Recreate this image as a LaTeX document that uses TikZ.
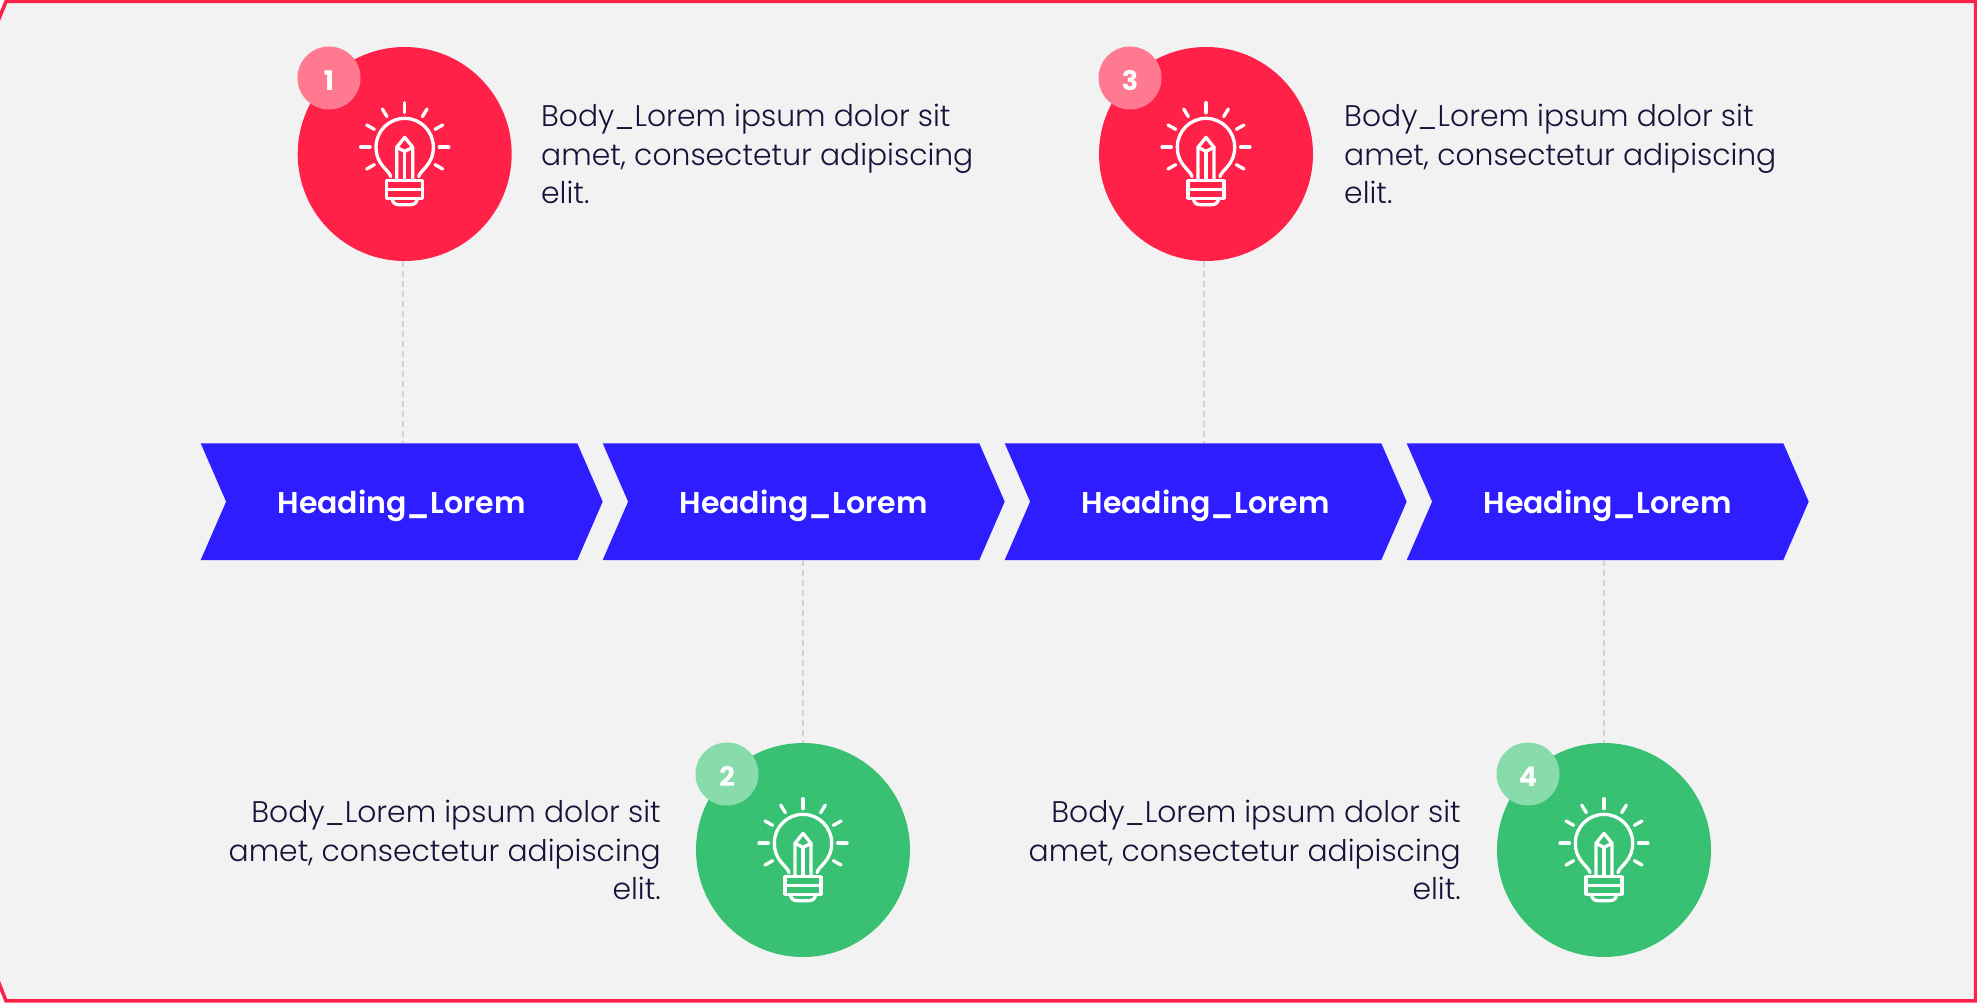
\documentclass[tikz,border=0pt]{standalone}
\usepackage{fontspec}
\setmainfont{Poppins}[UprightFont=* Light,BoldFont=* SemiBold]
\newfontfamily\digitfont{Poppins}[UprightFont=* Bold]
\definecolor{bgc}{HTML}{F2F2F2}
\definecolor{redc}{HTML}{FF2148}
\definecolor{redl}{HTML}{FF7A91}
\definecolor{grnc}{HTML}{38C172}
\definecolor{grnl}{HTML}{88DCAB}
\definecolor{bluec}{HTML}{2E1EFF}
\definecolor{inkc}{HTML}{14143A}
\definecolor{dashc}{HTML}{D2D2D2}
\tikzset{
  big/.style={circle,inner sep=0pt,minimum size=214pt,draw=none},
  badge/.style={circle,inner sep=0pt,minimum size=63pt,font=\fontsize{27}{27}\digitfont,text=white,text height=25pt,text depth=0pt},
  body/.style={font=\fontsize{29.8}{38.5}\selectfont,text=inkc,inner sep=0pt},
  head/.style={font=\fontsize{30}{38}\selectfont\bfseries,text=white,inner sep=0pt,minimum width=402pt,minimum height=116.7pt},
  link/.style={draw=dashc,line width=2pt,dash pattern=on 6pt off 4pt},
  glyph/.style={draw=white,line width=3.3pt,line cap=round,line join=round},
  bulb/.pic={
    \begin{scope}[x=0.3333pt,y=-0.3333pt]
      \foreach \ax/\ay/\bx/\by in {0/-154/0/-124,-67/-135/-53/-112,-114/-87/-91/-74,-132/-21/-104/-21,-114/45/-91/32,67/-135/53/-112,114/-87/91/-74,132/-21/104/-21,114/45/91/32}
        \draw[glyph] (\ax,\ay) -- (\bx,\by);
      \draw[glyph] (-42,68) .. controls (-46,48) and (-86,34) .. (-86,-21)
        arc[start angle=180,end angle=360,radius=86]
        .. controls (86,34) and (46,48) .. (42,68);
      \draw[glyph] (-54,80) rectangle (54,133);
      \draw[glyph] (-54,106) -- (54,106);
      \draw[glyph] (-38,133) .. controls (-36,148) and (-28,152) .. (-16,152) -- (16,152) .. controls (28,152) and (36,148) .. (38,133);
      \draw[glyph] (-24,76) -- (-24,-20) -- (0,-50) -- (24,-20) -- (24,76);
      \draw[glyph] (-24,-20) -- (0,-8) -- (24,-20);
      \draw[glyph] (0,-8) -- (0,76);
    \end{scope}
  }
}
\begin{document}
\begin{tikzpicture}[x=1pt,y=-1pt]
\useasboundingbox (0,0) rectangle (1977,1003);
\fill[white] (0,0) rectangle (1977,1003);
\draw[draw=redc,fill=bgc,line width=3.5pt] (-3,23.6) -- (6,1.5) -- (1975.5,1.5) -- (1975.5,1000.8) -- (6,1000.8) -- (-3,978) -- cycle;
% headings
\foreach \i/\x in {1/200.7,2/602.7,3/1004.7,4/1406.7}{
  \fill[bluec] (\x,443.3) -- ++(376.6,0) -- ++(25.4,58.35) -- ++(-25.4,58.35) -- ++(-376.6,0) -- ++(25.4,-58.35) -- cycle;
  \node[head] (h\i) at (\x+200.8,506) {Heading\_Lorem};
}
% circles
\node[big,fill=redc] (c1) at (404.7,154) {};
\node[big,fill=redc] (c3) at (1206,154) {};
\node[big,fill=grnc] (c2) at (803,850) {};
\node[big,fill=grnc] (c4) at (1604,850) {};
\foreach \n in {1,2,3,4}{
  \pic at (c\n) {bulb};
}
\node[badge,fill=redl] (b1) at (329,78) {1};
\node[badge,fill=redl] (b3) at (1130,78) {3};
\node[badge,fill=grnl] (b2) at (727,774) {2};
\node[badge,fill=grnl] (b4) at (1528,774) {4};
% connectors
\coordinate (a1) at (403,443.3);
\coordinate (a3) at (1204,443.3);
\coordinate (a2) at (803,560);
\coordinate (a4) at (1604,560);
\draw[link] (a1 |- c1.south) -- (a1);
\draw[link] (a3 |- c3.south) -- (a3);
\draw[link] (a2) -- (c2.north);
\draw[link] (a4) -- (c4.north);
% body texts
\node[body,anchor=west,align=left] (t1) at (541,154) {Body\_Lorem ipsum dolor sit\\amet, consectetur adipiscing\\elit.};
\node[body,anchor=west,align=left] (t3) at (1344,154) {Body\_Lorem ipsum dolor sit\\amet, consectetur adipiscing\\elit.};
\node[body,anchor=east,align=right] (t2) at (661,850) {Body\_Lorem ipsum dolor sit\\amet, consectetur adipiscing\\elit.};
\node[body,anchor=east,align=right] (t4) at (1461,850) {Body\_Lorem ipsum dolor sit\\amet, consectetur adipiscing\\elit.};
\end{tikzpicture}
\end{document}
